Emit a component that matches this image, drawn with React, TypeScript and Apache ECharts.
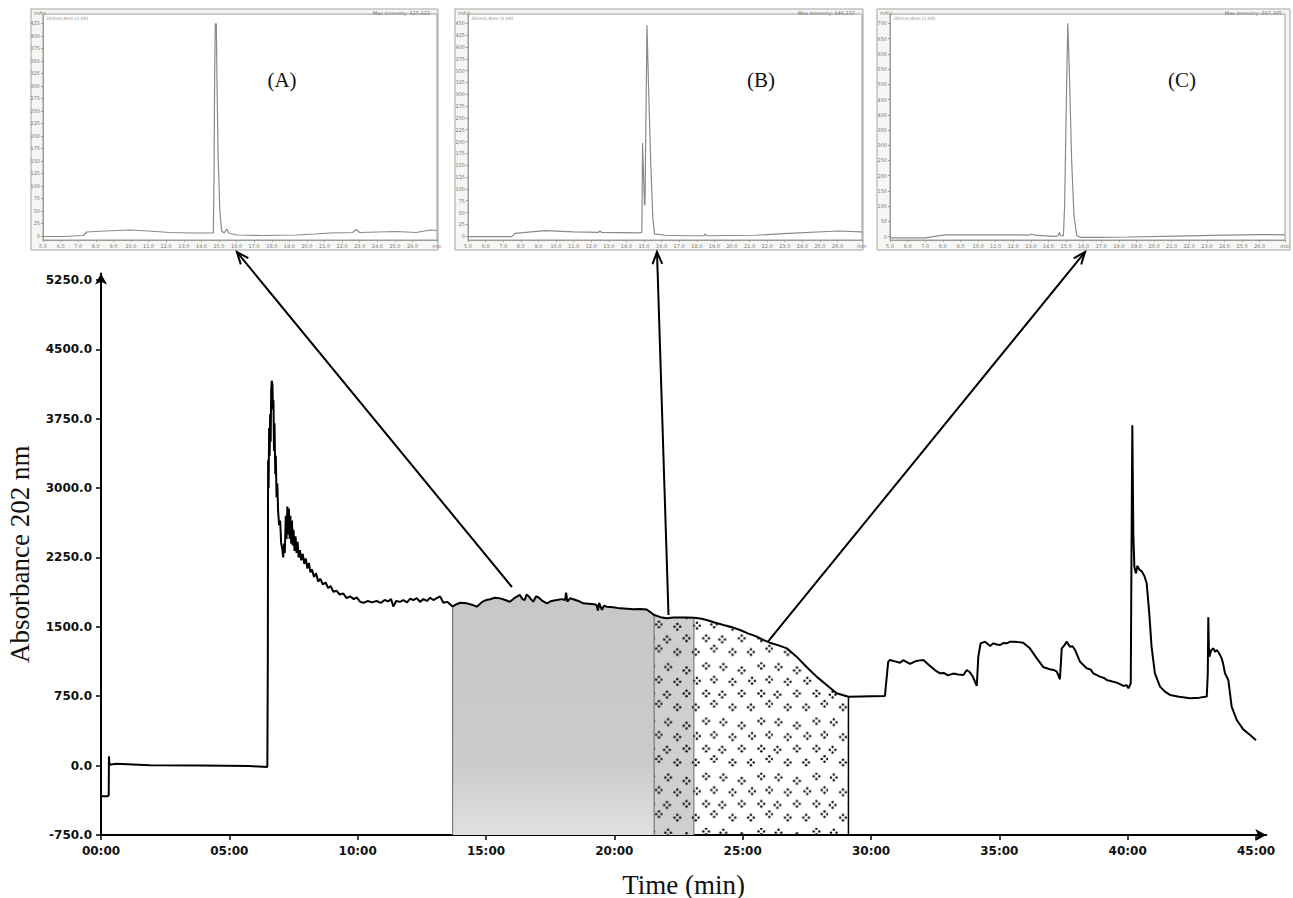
import React, { useEffect, useRef } from "react";
import * as echarts from "echarts";

// ---------- main chromatogram: [time (min), absorbance at 202 nm] ----------
const injectionSegment: number[][] = [
  [0, -330], [0.27, -330], [0.3, -320], [0.31, 100], [0.33, 10], [0.6, 20],
  [1.9, 5], [3.9, 0], [5.8, -5], [6.48, -15],
];
const firstPeakSegment: number[][] = [
  [6.5, 1200], [6.51, 3300], [6.53, 3000], [6.55, 3650], [6.57, 3350], [6.59, 3800],
  [6.61, 3500], [6.63, 4050], [6.65, 4160], [6.68, 4120], [6.7, 3850], [6.72, 3950],
  [6.74, 3400], [6.76, 3700], [6.79, 3150], [6.81, 3350], [6.84, 2900], [6.87, 3050],
  [6.9, 2750], [6.94, 2600], [6.98, 2650], [7.02, 2400], [7.06, 2350], [7.1, 2250],
  [7.13, 2400], [7.16, 2300], [7.2, 2700], [7.23, 2450], [7.26, 2800], [7.29, 2500],
  [7.32, 2780], [7.35, 2450], [7.38, 2700], [7.41, 2400], [7.44, 2650], [7.47, 2380],
  [7.5, 2550], [7.54, 2320], [7.58, 2480], [7.62, 2300], [7.66, 2420], [7.7, 2250],
  [7.75, 2330], [7.8, 2220], [7.86, 2290], [7.92, 2180], [7.98, 2240], [8.04, 2130],
  [8.1, 2190], [8.16, 2090], [8.22, 2120], [8.3, 2040], [8.38, 2080], [8.46, 1990],
  [8.55, 2020], [8.64, 1960], [8.75, 1980], [8.85, 1920], [8.95, 1940], [9.05, 1880],
  [9.18, 1890], [9.3, 1850], [9.44, 1860], [9.57, 1810], [9.7, 1830], [9.85, 1800],
  [9.96, 1820],
];
const plateauSegment: number[][] = [
  [10.1, 1770], [10.22, 1760], [10.4, 1780], [10.55, 1765], [10.74, 1780], [10.9, 1760],
  [11.05, 1790], [11.18, 1775], [11.3, 1800], [11.39, 1720], [11.5, 1780], [11.65, 1770],
  [11.78, 1790], [11.92, 1765], [12.05, 1805], [12.17, 1790], [12.3, 1810], [12.43, 1770],
  [12.56, 1800], [12.7, 1780], [12.82, 1815], [12.95, 1790], [13.08, 1810], [13.21, 1830],
  [13.34, 1760], [13.5, 1770], [13.7, 1720], [13.85, 1745], [14.0, 1760], [14.25, 1754],
  [14.45, 1740], [14.64, 1718], [14.85, 1770], [15.0, 1790], [15.16, 1798], [15.35, 1815],
  [15.55, 1808], [15.75, 1790], [15.93, 1772], [16.1, 1810], [16.32, 1845], [16.42, 1800],
  [16.51, 1790], [16.58, 1850], [16.65, 1834], [16.75, 1800], [16.84, 1772], [16.95, 1830],
  [17.04, 1820], [17.2, 1780], [17.37, 1754], [17.55, 1780], [17.76, 1790], [17.95, 1800],
  [18.08, 1790], [18.12, 1870], [18.17, 1772], [18.28, 1810], [18.4, 1798], [18.6, 1780],
  [18.79, 1754], [19.0, 1750], [19.2, 1745], [19.31, 1736], [19.36, 1675], [19.41, 1760],
  [19.46, 1720], [19.52, 1685], [19.6, 1730], [19.7, 1718], [19.95, 1712], [20.22, 1700],
  [20.5, 1695], [20.74, 1690], [21.0, 1692], [21.26, 1688], [21.4, 1660],
];
const fractionSegment: number[][] = [
  [21.55, 1628], [21.8, 1605], [22.04, 1592], [22.3, 1600], [22.56, 1602], [22.85, 1600],
  [23.1, 1598], [23.35, 1590], [23.6, 1574], [23.9, 1548], [24.25, 1520], [24.6, 1495],
  [24.9, 1466], [25.2, 1430], [25.55, 1394], [25.8, 1360], [26.06, 1329], [26.4, 1300],
  [26.72, 1268], [27.1, 1178], [27.5, 1063], [27.88, 962], [28.27, 872], [28.66, 782],
  [29.12, 745],
];
const lateSegment: number[][] = [
  [29.6, 748], [30.0, 750], [30.54, 752], [30.67, 1124], [30.74, 1142], [30.9, 1130],
  [31.13, 1113], [31.25, 1140], [31.52, 1099], [31.7, 1125], [31.84, 1135], [32.04, 1142],
  [32.3, 1077], [32.5, 1030], [32.69, 998], [32.85, 1000], [33.0, 975], [33.2, 995],
  [33.4, 985], [33.6, 980], [33.73, 1034], [33.85, 1010], [33.97, 960], [34.12, 861],
  [34.18, 1178], [34.27, 1322], [34.44, 1340], [34.55, 1315], [34.64, 1293], [34.77, 1322],
  [34.9, 1310], [35.03, 1304], [35.15, 1325], [35.29, 1322], [35.42, 1340], [35.55, 1340],
  [35.75, 1335], [35.93, 1329], [36.19, 1268], [36.46, 1160], [36.72, 1063], [36.97, 1041],
  [37.15, 1030], [37.24, 1016], [37.36, 933], [37.43, 1268], [37.53, 1300], [37.62, 1340],
  [37.75, 1286], [37.85, 1290], [37.95, 1250], [38.14, 1124], [38.4, 1052], [38.55, 1040],
  [38.66, 998], [38.92, 962], [39.1, 945], [39.18, 926], [39.4, 910], [39.57, 897],
  [39.7, 880], [39.83, 861], [39.95, 870], [40.03, 836], [40.12, 890], [40.15, 2400],
  [40.18, 3680], [40.22, 2500], [40.26, 2150], [40.32, 2080], [40.38, 2160], [40.45, 2120],
  [40.55, 2100], [40.65, 2050], [40.74, 1971], [40.84, 1647], [40.93, 1286], [41.06, 998],
  [41.26, 854], [41.45, 800], [41.65, 764], [42.0, 745], [42.43, 728], [42.8, 735],
  [43.08, 746], [43.12, 1000], [43.14, 1603], [43.16, 1300], [43.18, 1178], [43.26, 1250],
  [43.34, 1268], [43.4, 1230], [43.47, 1250], [43.55, 1220], [43.66, 1160], [43.72, 1100],
  [43.79, 998], [43.92, 926], [44.05, 637], [44.25, 493], [44.5, 392], [44.77, 331],
  [45.0, 275],
];

// fraction limits (min): grey | grey+dots | dots | end
const fractionBounds = [13.7, 21.55, 23.1, 29.12];

const xTicks = [0, 5, 10, 15, 20, 25, 30, 35, 40, 45];
const yTicks = [-750, 0, 750, 1500, 2250, 3000, 3750, 4500, 5250];

// ---------- inset analytical chromatograms: [time (min), mAU] ----------
const insetA: number[][] = [
  [5.0, -1], [6.15, -1], [7.3, 1], [7.48, 8], [8.5, 10], [9.94, 12], [11.0, 10], [12.2, 7],
  [13.5, 6], [14.49, 6], [14.68, 6], [14.72, 120], [14.75, 300], [14.79, 424], [14.85, 424],
  [14.88, 330], [14.95, 160], [15.05, 50], [15.15, 10], [15.3, 6], [15.44, 14], [15.55, 6],
  [16.0, 2], [17.5, 1], [19.4, 2], [20.5, 4], [21.3, 6], [22.6, 7], [22.8, 13], [23.0, 7],
  [25.1, 9], [26.2, 7], [27.0, 12], [27.39, 11],
];
const insetB: number[][] = [
  [5.0, -1], [7.48, -1], [7.67, 6], [9.375, 12], [11.0, 9], [12.4, 8], [12.5, 11], [12.6, 8],
  [14.68, 7], [14.88, 8], [14.92, 197], [14.96, 150], [15.03, 65], [15.06, 70], [15.17, 446],
  [15.25, 330], [15.38, 160], [15.5, 40], [15.6, 5], [16.2, 2], [17.52, 1], [18.4, 1],
  [18.47, 5], [18.55, 1], [21.3, 2], [23.2, 6], [26.04, 11], [27.39, 9],
];
const insetC: number[][] = [
  [5.0, -4], [7.0, -4], [7.6, 2], [8.2, 6], [10.0, 6], [12.0, 6], [12.9, 5], [13.05, 9],
  [13.2, 5], [14.3, 1], [14.55, 3], [14.62, 14], [14.7, 4], [14.85, 3], [14.92, 100],
  [15.02, 450], [15.1, 700], [15.18, 560], [15.32, 250], [15.45, 70], [15.6, 5], [15.8, -2],
  [17.0, -2], [18.5, -1], [21.3, 2], [24.0, 5], [26.04, 7], [27.44, 6],
];
const insetLabels = ["(A)", "(B)", "(C)"];
const insetMaxIntensity = ["Max Intensity: 425,423", "Max Intensity: 446,237", "Max Intensity: 697,305"];
const insetYTickStep = [25, 25, 50];
const insetYTickTop = [425, 450, 700];
const insetXTicks = [5, 6, 7, 8, 9, 10, 11, 12, 13, 14, 15, 16, 17, 18, 19, 20, 21, 22, 23, 24, 25, 26];

// arrows: start on main trace [min, abs] -> target time on each inset
const arrowStarts = [[16.01, 1931], [22.11, 1628], [26.0, 1345]];
const arrowTargets = [16.02, 15.74, 16.08];

const mainTrace = [
  ...injectionSegment, ...firstPeakSegment, ...plateauSegment, ...fractionSegment, ...lateSegment,
];

function range(a: number, b: number, s: number) {
  const r: number[] = [];
  for (let v = a; v <= b + 1e-9; v += s) r.push(v);
  return r;
}

function dotPattern() {
  const pts = [[5, 4], [21, 7], [38, 3], [13, 17], [30, 16], [45, 15], [4, 28], [21, 27], [38, 27], [13, 39], [29, 39], [45, 36]];
  const k = 1.15;
  let c = "";
  for (const [x, y] of pts) {
    const offs = [[0, -2.8], [2.8, 0], [0, 2.8], [-2.8, 0]];
    for (const [dx, dy] of offs) {
      c += `<circle cx='${x * k + dx}' cy='${y * k + dy}' r='1.25' fill='#111'/>`;
    }
  }
  const svg = `<svg xmlns='http://www.w3.org/2000/svg' width='55.2' height='55.2'>${c}</svg>`;
  return "data:image/svg+xml;charset=utf-8," + encodeURIComponent(svg);
}

export default function App() {
  const ref = useRef<HTMLDivElement>(null);
  useEffect(() => {
    document.body.style.margin = "0";
    const chart = echarts.init(ref.current!, undefined, { renderer: "svg" });

    const valueAt = (t: number) => mainTrace.find((p) => p[0] === t)![1];
    const between = (a: number, b: number) => mainTrace.filter((p) => p[0] >= a && p[0] <= b);
    const [b0, b1, b2, b3] = fractionBounds;
    const pattern = { image: dotPattern(), repeat: "repeat", imageWidth: 55.2, imageHeight: 55.2 };

    const insetGrids = [
      { left: 43, top: 14, width: 394, height: 226, xMax: 27.39, yMin: -8, yMax: 443.6, data: insetA },
      { left: 468, top: 14, width: 394, height: 226, xMax: 27.39, yMin: -8, yMax: 469.6, data: insetB },
      { left: 890, top: 14, width: 395, height: 226, xMax: 27.44, yMin: -10.8, yMax: 730.5, data: insetC },
    ];

    const grids: any[] = [
      { left: 101, top: 273.5, width: 1165.3, height: 561.5, outerBoundsMode: "none" },
      ...insetGrids.map((g) => ({
        left: g.left, top: g.top, width: g.width, height: g.height, show: true,
        backgroundColor: "#ffffff", borderColor: "#9c9c9c", borderWidth: 1, outerBoundsMode: "none",
      })),
    ];

    const tickFont = { color: "#111", fontSize: 12, fontWeight: "bold", fontFamily: "DejaVu Sans" };

    const xAxes: any[] = [
      {
        type: "value", gridIndex: 0, min: 0, max: 45.4,
        axisLine: { onZero: false, lineStyle: { color: "#000", width: 2 }, symbol: ["none", "arrow"], symbolSize: [9, 11] },
        axisTick: { customValues: xTicks, length: 5, lineStyle: { color: "#000", width: 1.5 } },
        axisLabel: {
          customValues: xTicks, margin: 10, ...tickFont,
          formatter: (v: number) => (v < 10 ? "0" : "") + v + ":00",
        },
        splitLine: { show: false },
        name: "Time (min)", nameLocation: "middle", nameGap: 36,
        nameTextStyle: { fontFamily: "Liberation Serif", fontSize: 27, color: "#111" },
      },
      ...insetGrids.map((g, i) => ({
        type: "value", gridIndex: i + 1, min: 5, max: g.xMax,
        axisLine: { onZero: false, lineStyle: { color: "#9c9c9c", width: 1 } },
        axisTick: { customValues: [...insetXTicks, g.xMax], length: 2, lineStyle: { color: "#999" } },
        axisLabel: {
          customValues: [...insetXTicks, g.xMax], margin: 3, color: "#777", fontSize: 5, fontFamily: "DejaVu Sans",
          formatter: (v: number) => (v > 27 ? "min" : v.toFixed(1)),
        },
        splitLine: { show: false },
      })),
    ];

    const yAxes: any[] = [
      {
        type: "value", gridIndex: 0, min: -750, max: 5320,
        axisLine: { show: true, onZero: false, lineStyle: { color: "#000", width: 2 }, symbol: ["none", "arrow"], symbolSize: [9, 11] },
        axisTick: { show: true, customValues: yTicks, length: 5, lineStyle: { color: "#000", width: 1.5 } },
        axisLabel: {
          customValues: yTicks, margin: 9, ...tickFont,
          formatter: (v: number) => v.toFixed(1),
        },
        splitLine: { show: false },
        name: "Absorbance 202 nm", nameLocation: "middle", nameGap: 68, nameRotate: 90,
        nameTextStyle: { fontFamily: "Liberation Serif", fontSize: 27, color: "#111" },
      },
      ...insetGrids.map((g, i) => {
        const ticks = range(0, insetYTickTop[i], insetYTickStep[i]);
        return {
          type: "value", gridIndex: i + 1, min: g.yMin, max: g.yMax,
          axisLine: { show: true, onZero: false, lineStyle: { color: "#9c9c9c", width: 1 } },
          axisTick: { show: true, customValues: ticks, length: 2, lineStyle: { color: "#999" } },
          axisLabel: { customValues: ticks, margin: 3, color: "#777", fontSize: 5, fontFamily: "DejaVu Sans" },
          splitLine: { show: false },
        };
      }),
    ];

    const boundaryLine = (t: number, color: string, width: number) => ({
      type: "line", xAxisIndex: 0, yAxisIndex: 0, data: [[t, -750], [t, valueAt(t)]],
      symbol: "none", silent: true, z: 4, lineStyle: { color, width },
    });

    const series: any[] = [
      {
        type: "line", xAxisIndex: 0, yAxisIndex: 0, data: between(b0, b1), symbol: "none", silent: true, z: 2,
        lineStyle: { width: 0, opacity: 0 },
        areaStyle: {
          origin: "start", opacity: 1,
          color: new echarts.graphic.LinearGradient(0, 0, 0, 1, [
            { offset: 0, color: "#c7c7c7" }, { offset: 0.7, color: "#cbcbcb" }, { offset: 1, color: "#e0e0e0" },
          ]),
        },
      },
      {
        type: "line", xAxisIndex: 0, yAxisIndex: 0, data: between(b1, b2), symbol: "none", silent: true, z: 2,
        lineStyle: { width: 0, opacity: 0 },
        areaStyle: { origin: "start", opacity: 1, color: "#cfcfcf" },
      },
      {
        type: "line", xAxisIndex: 0, yAxisIndex: 0, data: between(b1, b3), symbol: "none", silent: true, z: 3,
        lineStyle: { width: 0, opacity: 0 },
        areaStyle: { origin: "start", opacity: 1, color: pattern },
      },
      boundaryLine(b0, "#666", 1),
      boundaryLine(b1, "#666", 1),
      boundaryLine(b2, "#666", 1),
      boundaryLine(b3, "#000", 1.5),
      {
        type: "line", xAxisIndex: 0, yAxisIndex: 0, data: mainTrace, symbol: "none", silent: true, z: 5,
        lineStyle: { color: "#000", width: 2 },
      },
      ...insetGrids.map((g, i) => ({
        type: "line", xAxisIndex: i + 1, yAxisIndex: i + 1, data: g.data, symbol: "none", silent: true, z: 5,
        lineStyle: { color: "#8a8a8a", width: 1.2 },
      })),
    ];

    chart.setOption({
      animation: false,
      backgroundColor: "#ffffff",
      grid: grids,
      xAxis: xAxes,
      yAxis: yAxes,
      series,
    });

    // graphic overlays: inset frames, labels, arrows
    const frames = [
      { x: 31, y: 9, w: 407, h: 241 },
      { x: 455, y: 9, w: 408, h: 241 },
      { x: 877, y: 9, w: 413, h: 241 },
    ];
    const labelX = [282, 761, 1182];
    const elements: any[] = [];
    frames.forEach((f, i) => {
      const g = insetGrids[i];
      elements.push({
        type: "rect", id: "frame" + i, z: -1, silent: true,
        shape: { x: f.x, y: f.y, width: f.w, height: f.h },
        style: { fill: "#f6f6f4", stroke: "#a3a3a3", lineWidth: 1 },
      });
      elements.push({
        type: "text", id: "mau" + i, silent: true, x: f.x + 3, y: f.y + 1,
        style: { text: "mAU", fontSize: 5, fontFamily: "DejaVu Sans", fill: "#777" },
      });
      elements.push({
        type: "text", id: "max" + i, silent: true, x: f.x + f.w - 8, y: f.y + 1,
        style: { text: insetMaxIntensity[i], fontSize: 5, fontFamily: "DejaVu Sans", fill: "#777", align: "right", textAlign: "right" },
      });
      elements.push({
        type: "text", id: "det" + i, silent: true, x: g.left + 3, y: g.top + 2,
        style: { text: "202nm,4nm (1.00)", fontSize: 4.5, fontFamily: "DejaVu Sans", fill: "#888" },
      });
      elements.push({
        type: "text", id: "lab" + i, silent: true, x: labelX[i], y: 80,
        style: {
          text: insetLabels[i], fontSize: 21, fontFamily: "Liberation Serif", fill: "#111",
          align: "center", verticalAlign: "middle", textAlign: "center", textVerticalAlign: "middle",
        },
      });
    });

    arrowStarts.forEach((s, i) => {
      const from = chart.convertToPixel({ gridIndex: 0 } as any, s) as number[];
      const base = chart.convertToPixel({ gridIndex: i + 1 } as any, [arrowTargets[i], insetGrids[i].yMin]) as number[];
      const tip = [base[0], base[1] + 12];
      const dx = tip[0] - from[0];
      const dy = tip[1] - from[1];
      const len = Math.hypot(dx, dy);
      const ux = dx / len;
      const uy = dy / len;
      const a = (22 * Math.PI) / 180;
      const L = 13;
      const rot = (ang: number) => [ux * Math.cos(ang) - uy * Math.sin(ang), ux * Math.sin(ang) + uy * Math.cos(ang)];
      const r1 = rot(a);
      const r2 = rot(-a);
      elements.push({
        type: "line", id: "arrow" + i, silent: true, z: 10,
        shape: { x1: from[0], y1: from[1], x2: tip[0], y2: tip[1] },
        style: { stroke: "#000", lineWidth: 2 },
      });
      elements.push({
        type: "polyline", id: "head" + i, silent: true, z: 10,
        shape: { points: [[tip[0] - r1[0] * L, tip[1] - r1[1] * L], tip, [tip[0] - r2[0] * L, tip[1] - r2[1] * L]] },
        style: { stroke: "#000", lineWidth: 2, fill: "none" },
      });
    });

    chart.setOption({ graphic: { elements } });

    return () => chart.dispose();
  }, []);

  return <div ref={ref} style={{ width: 1293, height: 898 }} />;
}
